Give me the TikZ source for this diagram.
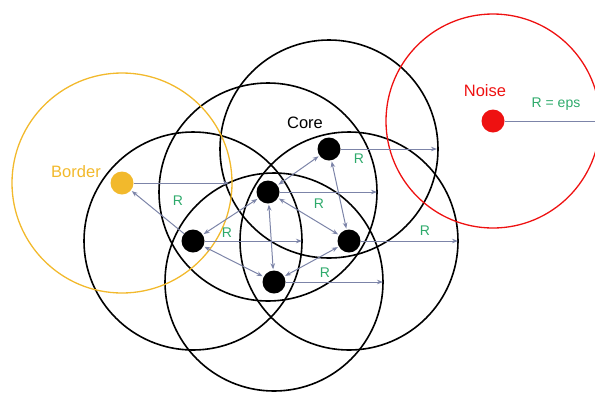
\documentclass[tikz,border=0pt]{standalone}
\usepackage{fontspec}
\setmainfont{Liberation Sans}
\usepackage{xcolor}
\usetikzlibrary{arrows.meta}
\definecolor{bordercol}{HTML}{F2B92C}
\definecolor{noisecol}{HTML}{EE1111}
\definecolor{rcol}{HTML}{2EAA6B}
\definecolor{linkcol}{HTML}{7C84A8}

\begin{document}
\begin{tikzpicture}[
x=1pt, y=-1pt,
core/.style={circle, fill=black, minimum size=23pt, inner sep=0pt},
region/.style={draw=black, line width=1.6pt},
link/.style={draw=linkcol, line width=1pt,
    {Stealth[length=6pt,width=4.5pt]}-{Stealth[length=6pt,width=4.5pt]},
    shorten <=1pt, shorten >=1pt},
arrow/.style={draw=linkcol, line width=1pt, -{Stealth[length=6pt,width=4.5pt]}},
rlabel/.style={text=rcol, font=\fontsize{14}{16}\selectfont, inner sep=0pt},
title/.style={font=\fontsize{16.5}{18}\selectfont, inner sep=0pt}
]
\useasboundingbox (0,0) rectangle (595,392);

% points
\node[core] (a) at (329,149) {};
\node[core] (b) at (268,192) {};
\node[core] (c) at (193,241) {};
\node[core] (d) at (349,241) {};
\node[core] (e) at (274,282) {};
\node[core, fill=bordercol] (border) at (122,183) {};
\node[core, fill=noisecol] (noise) at (493,121) {};

% eps neighbourhoods
\draw[region] (a) circle (109pt);
\draw[region] (b) circle (109pt);
\draw[region] (c) circle (109pt);
\draw[region] (d) circle (109pt);
\draw[region] (e) circle (109pt);
\draw[draw=bordercol, line width=1.3pt] (border) circle (110pt);
\draw[draw=noisecol, line width=1.3pt] (noise) circle (107pt);

% radius arrows
\coordinate (ar) at (437,149);
\coordinate (br) at (377,192);
\coordinate (cr) at (302,241);
\coordinate (dr) at (458,241);
\coordinate (er) at (383,282);
\coordinate (borderr) at (229,183);
\coordinate (noiser) at (600,121);

\draw[arrow] (a) -- (ar);
\draw[arrow] (b) -- (br);
\draw[arrow] (c) -- (cr);
\draw[arrow] (d) -- (dr);
\draw[arrow] (e) -- (er);
\draw[arrow] (border) -- (borderr);
\draw[draw=linkcol, line width=1pt] (noise) -- (noiser);

% reachability
\draw[link] (a) -- (b);
\draw[link] (a) -- (d);
\draw[link] (b) -- (c);
\draw[link] (b) -- (d);
\draw[link] (b) -- (e);
\draw[link] (c) -- (e);
\draw[link] (d) -- (e);
\draw[arrow, shorten >=1pt] (c) -- (border);

% labels
\node[rlabel] (ra) at (359,159) {R};
\node[rlabel] (rb) at (319,204) {R};
\node[rlabel] (rc) at (227,233) {R};
\node[rlabel] (rd) at (425,231) {R};
\node[rlabel] (re) at (325,273) {R};
\node[rlabel] (rborder) at (178,201) {R};
\node[rlabel] (rnoise) at (556,104) {R = eps};

\node[title] (coretext) at (305,123) {Core};
\node[title, text=bordercol] (bordertext) at (76,172) {Border};
\node[title, text=noisecol] (noisetext) at (485,91) {Noise};

\end{tikzpicture}
\end{document}
